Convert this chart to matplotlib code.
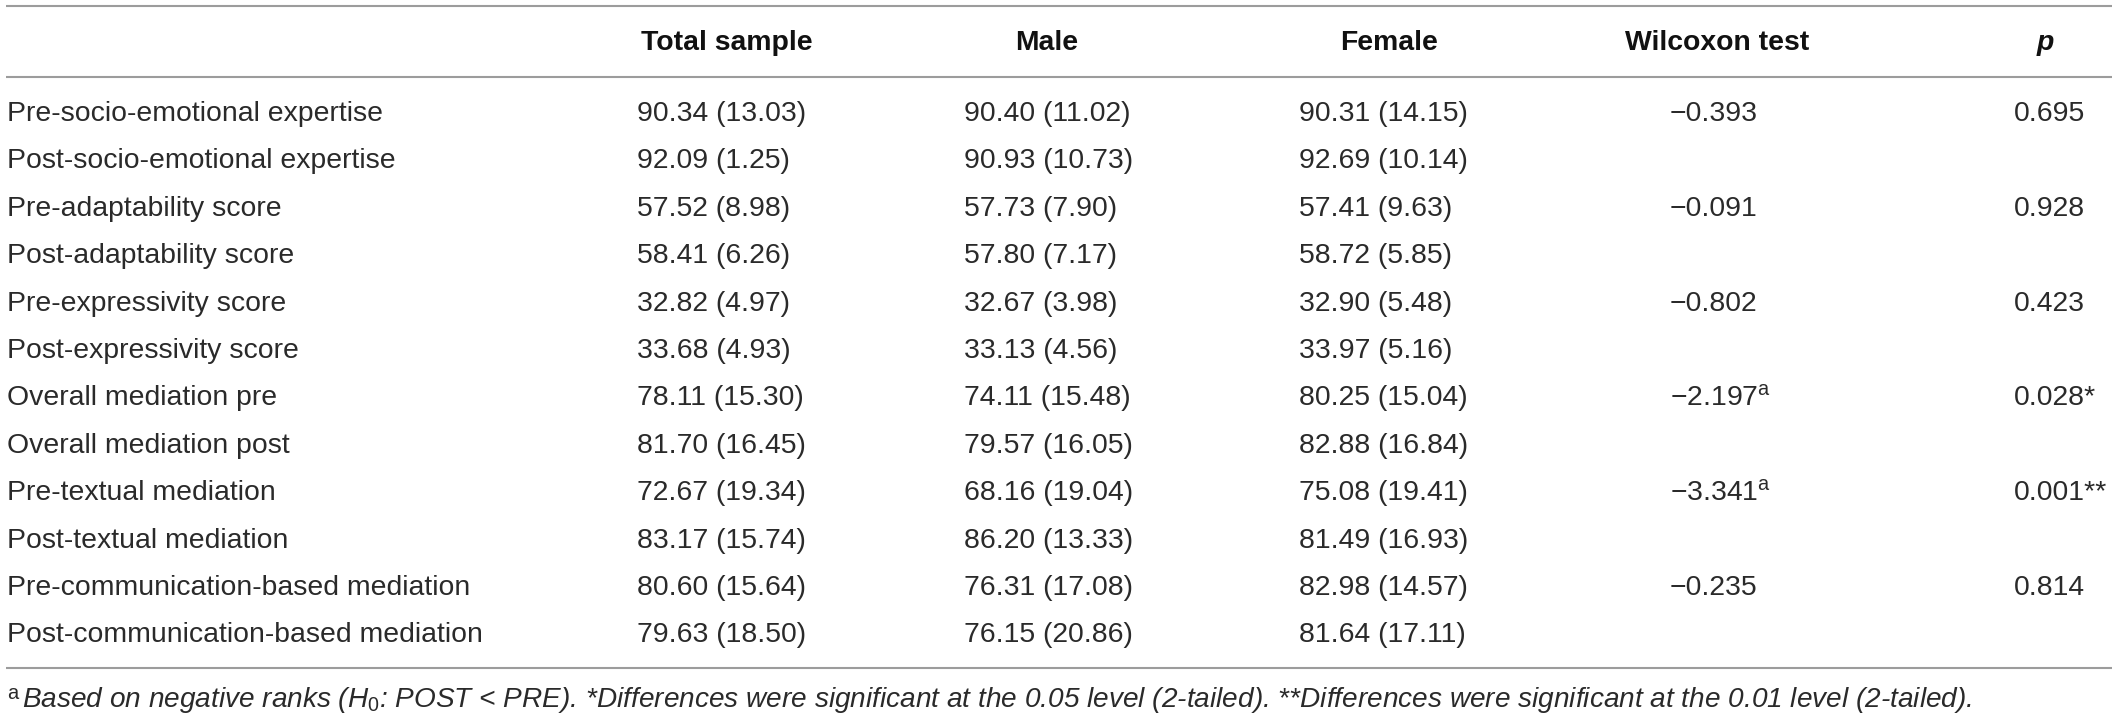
import matplotlib
matplotlib.use("Agg")
import matplotlib.pyplot as plt

plt.rcParams['font.family'] = ['Liberation Sans', 'DejaVu Sans']
plt.rcParams['mathtext.fontset'] = 'custom'
plt.rcParams['mathtext.rm'] = 'Liberation Sans'
plt.rcParams['mathtext.it'] = 'Liberation Sans:italic'
plt.rcParams['mathtext.bf'] = 'Liberation Sans:bold'

# ---------------- data ----------------
headers = ["Total sample", "Male", "Female", "Wilcoxon test", "p"]
row_labels = [
    "Pre-socio-emotional expertise",
    "Post-socio-emotional expertise",
    "Pre-adaptability score",
    "Post-adaptability score",
    "Pre-expressivity score",
    "Post-expressivity score",
    "Overall mediation pre",
    "Overall mediation post",
    "Pre-textual mediation",
    "Post-textual mediation",
    "Pre-communication-based mediation",
    "Post-communication-based mediation",
]
total_mean = [90.34, 92.09, 57.52, 58.41, 32.82, 33.68, 78.11, 81.70, 72.67, 83.17, 80.60, 79.63]
total_sd = [13.03, 1.25, 8.98, 6.26, 4.97, 4.93, 15.30, 16.45, 19.34, 15.74, 15.64, 18.50]
male_mean = [90.40, 90.93, 57.73, 57.80, 32.67, 33.13, 74.11, 79.57, 68.16, 86.20, 76.31, 76.15]
male_sd = [11.02, 10.73, 7.90, 7.17, 3.98, 4.56, 15.48, 16.05, 19.04, 13.33, 17.08, 20.86]
female_mean = [90.31, 92.69, 57.41, 58.72, 32.90, 33.97, 80.25, 82.88, 75.08, 81.49, 82.98, 81.64]
female_sd = [14.15, 10.14, 9.63, 5.85, 5.48, 5.16, 15.04, 16.84, 19.41, 16.93, 14.57, 17.11]
wilcoxon = [-0.393, None, -0.091, None, -0.802, None, -2.197, None, -3.341, None, -0.235, None]
wilcoxon_note = ["", "", "", "", "", "", "a", "", "a", "", "", ""]
p_values = [0.695, None, 0.928, None, 0.423, None, 0.028, None, 0.001, None, 0.814, None]
p_stars = ["", "", "", "", "", "", "*", "", "**", "", "", ""]

footnote = (r"Based on negative ranks ($\mathit{H}_{\mathit{0}}$: POST < PRE). "
            "*Differences were significant at the 0.05 level (2-tailed). "
            "**Differences were significant at the 0.01 level (2-tailed).")

# ---------------- layout ----------------
W, H = 2118, 719
fig = plt.figure(figsize=(W / 100, H / 100), dpi=100)
ax = fig.add_axes([0, 0, 1, 1])
ax.set_xlim(0, W)
ax.set_ylim(H, 0)
ax.axis('off')

txt = '#2a2a2a'
line_col = '#9c9c9c'
fs = 20.4
fs_foot = 20.2

# horizontal rules
for y in (5.5, 77, 668):
    ax.plot([6, 2112], [y, y], color=line_col, lw=1.5, solid_capstyle='butt')

# header
hdr_base = 50
hdr_x = [727, 1047, 1389, 1717, 2045]
for h, x in zip(headers, hdr_x):
    style = 'italic' if h == 'p' else 'normal'
    ax.text(x, hdr_base, h, ha='center', va='baseline', fontsize=fs,
            fontweight='bold', fontstyle=style, color='#111111')

# body
row0 = 121
dy = 47.4
col_x = [637, 964, 1299]
wil_x = 1670
p_x = 2014
for i, lab in enumerate(row_labels):
    y = row0 + i * dy
    ax.text(7, y, lab, ha='left', va='baseline', fontsize=fs, color=txt)
    for x, m, s in zip(col_x, (total_mean, male_mean, female_mean),
                       (total_sd, male_sd, female_sd)):
        ax.text(x, y, f"{m[i]:.2f} ({s[i]:.2f})", ha='left', va='baseline',
                fontsize=fs, color=txt)
    if wilcoxon[i] is not None:
        s = f"{wilcoxon[i]:.3f}".replace('-', '\u2212')
        if wilcoxon_note[i]:
            s += r"$^{\mathrm{" + wilcoxon_note[i] + r"}}$"
        ax.text(wil_x, y, s, ha='left', va='baseline', fontsize=fs, color=txt)
    if p_values[i] is not None:
        s = f"{p_values[i]:.3f}" + p_stars[i]
        ax.text(p_x, y, s, ha='left', va='baseline', fontsize=fs, color=txt)

# footnote
ax.text(7, 699, "a", ha='left', va='baseline', fontsize=fs_foot * 0.72, color=txt)
ax.text(22, 707, footnote, ha='left', va='baseline', fontsize=fs_foot,
        fontstyle='italic', color=txt)

fig.savefig("out.png", dpi=100)
